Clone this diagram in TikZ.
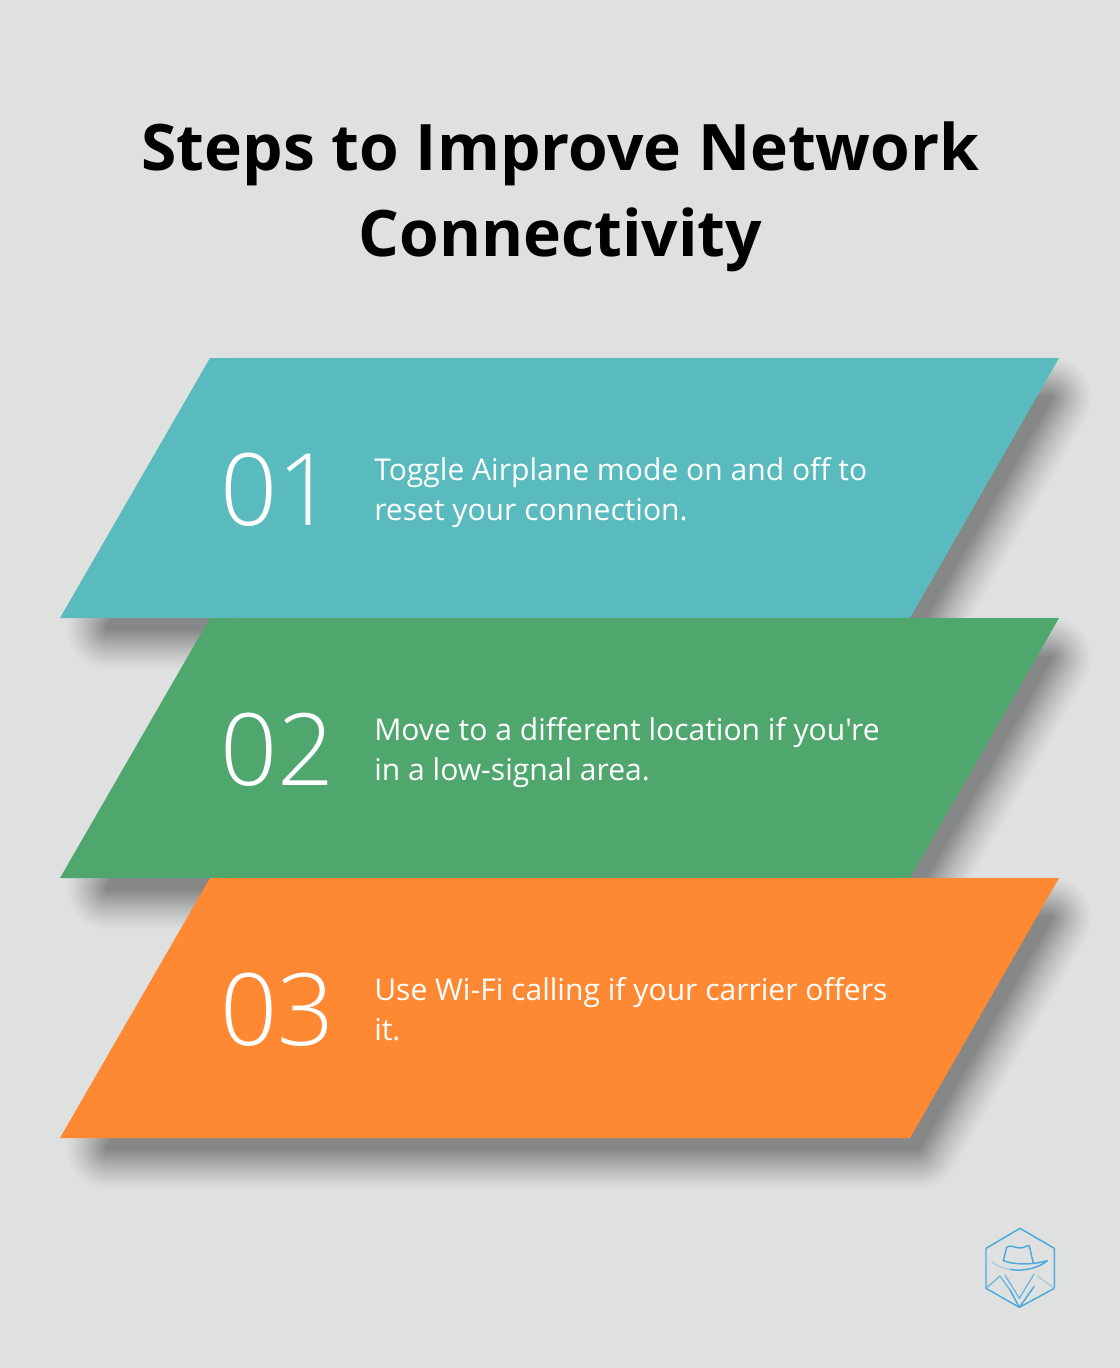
\documentclass[tikz,border=0pt]{standalone}
\usepackage{fontspec}
\setmainfont{Open Sans}[Ligatures=TeXOff]
\newfontfamily\lightfont{Open Sans Light}
\usetikzlibrary{positioning}
\definecolor{pagebg}{HTML}{DFE1E0}
\definecolor{slabteal}{HTML}{59BBBE}
\definecolor{slabgreen}{HTML}{4FA76E}
\definecolor{slaborange}{HTML}{FF8833}
\definecolor{logoblue}{HTML}{4CA9DD}
\tikzset{
  title/.style={inner sep=0pt,align=center,text=black,font=\fontsize{48.1}{64.5}\selectfont\bfseries},
  numlabel/.style={inner sep=0pt,anchor=base west,text=white,font=\fontsize{75}{75}\selectfont\lightfont},
  steptext/.style={inner sep=0pt,anchor=west,align=left,text=white,font=\fontsize{22.55}{30}\selectfont},
  logoline/.style={draw=logoblue,line width=1.1pt,line join=round,line cap=round},
  logomid/.style={draw=logoblue!80!pagebg,line width=.9pt,line join=round,line cap=round},
  logofaint/.style={draw=logoblue!45!pagebg,line width=.8pt,line join=round,line cap=round}
}
\begin{document}
\begin{tikzpicture}[x=.75pt,y=-.75pt]
\fill[pagebg] (0,0) rectangle (1120,1368);
\node[title] (heading) at (560.5,197) {Steps to Improve Network\\Connectivity};

\foreach \y/\slabcol/\num/\txt in {
  358/slabteal/01/{Toggle Airplane mode on and off to\\reset your connection.},
  618/slabgreen/02/{Move to a different location if you're\\in a low-signal area.},
  878/slaborange/03/{Use Wi-Fi calling if your carrier offers\\it.}} {
  \begin{scope}[shift={(0,\y)}]
    % soft shadow, stacked layers
    \foreach \w [evaluate=\w as \shadeop using .008+.026*(1-\w/88)] in {84,80,...,4} {
      \begin{scope}[transparency group,opacity=\shadeop]
        \path[draw=black,fill=black,line width=\w*.75pt,line join=round]
          (241,40) -- (1050,40) -- (918,270) -- (108,270) -- cycle;
      \end{scope}
    }
    \fill[\slabcol] (210,0) -- (1059,0) -- (910,260) -- (60,260) -- cycle;
    \node[numlabel] (num\num) at (220.5,167) {\num};
    \node[steptext] (txt\num) at (374,134) {\strut\txt\strut};
  \end{scope}
}

% logo
\begin{scope}[shift={(960,1210)},scale=1/3]
  \draw[logoline] (180,55) -- (283,115) -- (283,235) -- (178,292) -- (78,235) -- (78,115) -- cycle;
  \draw[logoline] (130,152) -- (140,112) .. controls (150,102) and (165,114) .. (180,114)
    .. controls (195,114) and (200,104) .. (208,108) -- (220,160);
  \draw[logoline] (130,152) .. controls (165,165) and (215,165) .. (262,152)
    .. controls (240,172) and (190,186) .. (150,178);
  \draw[logofaint] (95,155) .. controls (115,170) and (135,176) .. (150,178);
  \draw[logomid] (78,235) -- (120,198) -- (150,240);
  \draw[logomid] (135,195) -- (178,265) -- (222,192);
  \draw[logoline] (150,240) -- (178,292) -- (222,230);
  \draw[logofaint] (232,198) -- (283,235);
\end{scope}
\end{tikzpicture}
\end{document}
